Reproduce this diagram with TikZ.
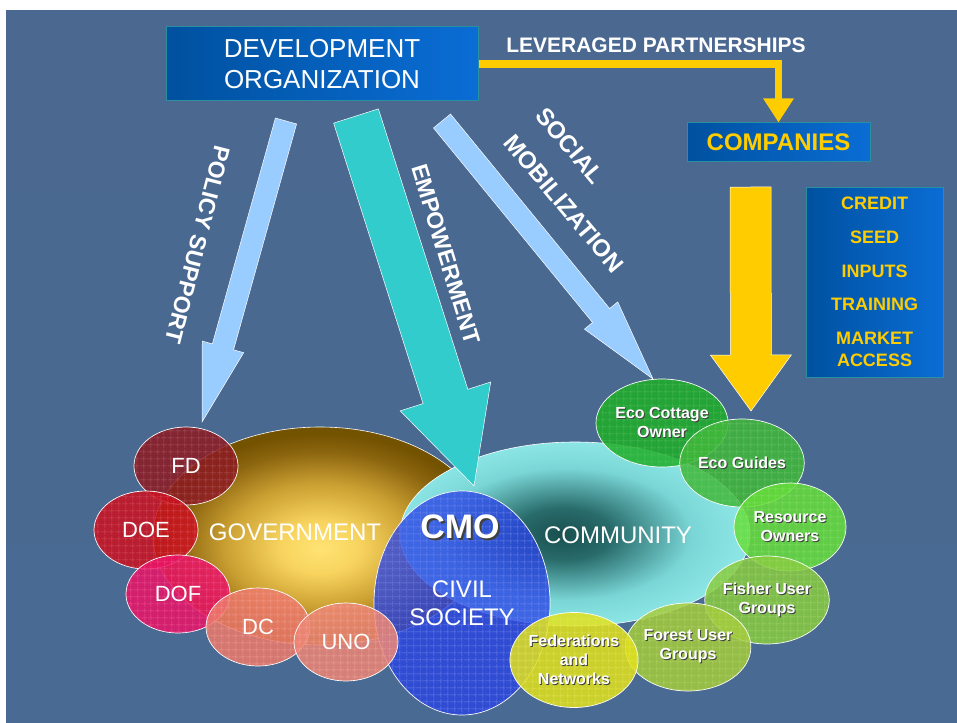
\documentclass[tikz,border=0pt]{standalone}
\usepackage{fontspec}
\setmainfont{Liberation Sans}
\usetikzlibrary{calc,shapes.geometric,arrows.meta,patterns.meta}

\definecolor{bgtop}{HTML}{4A6890}
\definecolor{bgmid}{HTML}{5A7CA6}
\definecolor{bgbot}{HTML}{496A92}
\definecolor{devdark}{HTML}{00519F}
\definecolor{devlight}{HTML}{0A6DD5}
\definecolor{boxedge}{HTML}{2A8F9F}
\definecolor{gold}{HTML}{FFCC00}
\definecolor{skyarrow}{HTML}{99CCFF}
\definecolor{tealarrow}{HTML}{33CCCC}
\definecolor{cmoblue}{HTML}{2A44E6}
\definecolor{fdred}{HTML}{8E1A22}
\definecolor{doered}{HTML}{CC1020}
\definecolor{dofpink}{HTML}{EC1468}
\definecolor{dcsalmon}{HTML}{EE7A6C}
\definecolor{unosalmon}{HTML}{EE8676}
\definecolor{ecogreen}{HTML}{1EAE28}
\definecolor{guidegreen}{HTML}{40B83A}
\definecolor{resgreen}{HTML}{66DE3A}
\definecolor{fishgreen}{HTML}{88CC40}
\definecolor{forgreen}{HTML}{A4CC3C}
\definecolor{fedyellow}{HTML}{E2E21C}

\pgfdeclareradialshading{govshade}{\pgfpoint{0bp}{-3bp}}{rgb(0bp)=(1,.89,.45);rgb(6bp)=(.97,.83,.37);rgb(14bp)=(.8,.63,.2);rgb(21bp)=(.55,.4,.06);rgb(25bp)=(.45,.32,0);rgb(50bp)=(.45,.32,0)}
\pgfdeclareradialshading{commshade}{\pgfpoint{-2bp}{0bp}}{rgb(0bp)=(.1,.31,.31);rgb(7bp)=(.16,.42,.42);rgb(18bp)=(.48,.84,.84);rgb(25bp)=(.55,.9,.9);rgb(50bp)=(.55,.9,.9)}

\newcommand\shd[2][1pt]{\leavevmode\rlap{\kern#1\raisebox{-#1}{\textcolor{black!75}{#2}}}#2}
\newcommand\fatarrow[6]{%
  \coordinate (neck) at ($(#3)!#6!(#2)$);
  \draw[#1] ($(#2)!#4!90:(#3)$) -- ($(neck)!#4!90:(#3)$) -- ($(neck)!#5!90:(#3)$) -- (#3)
    -- ($(neck)!#5!-90:(#3)$) -- ($(neck)!#4!-90:(#3)$) -- ($(#2)!#4!-90:(#3)$) -- cycle;}

\begin{document}
\begin{tikzpicture}[x=1pt,y=-1pt,
every node/.style={text=white},
box/.style={draw=boxedge,line width=1pt,left color=devdark,right color=devlight,inner sep=0pt},
gridded/.style={postaction={pattern={Lines[distance=6.5pt,line width=.5pt]},pattern color=#1},
  postaction={pattern={Lines[distance=6.5pt,angle=90,line width=.5pt]},pattern color=#1}},
sm/.style={ellipse,draw=white,line width=.7pt,fill=#1,fill opacity=.85,text opacity=1,
  minimum width=104pt,minimum height=78pt,inner sep=0pt,gridded=#1!70!white,
  font=\fontsize{22}{26}\selectfont},
gr/.style={ellipse,draw=white,line width=.7pt,fill=#1,fill opacity=.85,text opacity=1,
  minimum width=112pt,minimum height=88pt,inner sep=0pt,align=center,gridded=#1!75!white,
  font=\bfseries\fontsize{16}{19}\selectfont},
yelline/.style={draw=gold,line width=7.5pt,-{Triangle[width=29pt,length=24pt]}},
lbarrow/.style={fill=skyarrow,draw=white,line width=.5pt},
tlarrow/.style={fill=tealarrow,draw=white,line width=.5pt},
ylarrow/.style={fill=gold,draw=white,line width=.5pt},
arrowlab/.style={font=\bfseries\fontsize{23}{27}\selectfont}]

\useasboundingbox (0,0) rectangle (957,722);
\fill[top color=bgtop,middle color=bgmid,bottom color=bgbot] (6,11) rectangle (957,722);

\node[ellipse,minimum width=334pt,minimum height=218pt,shading=govshade,draw=white,line width=.6pt] (gov) at (320,536) {};
\node[ellipse,minimum width=350pt,minimum height=184pt,shading=commshade,draw=white,line width=.6pt] (comm) at (575,534) {};
\node[ellipse,minimum width=176pt,minimum height=224pt,fill=cmoblue,fill opacity=.78,text opacity=1,
  draw=white,line width=.7pt,gridded=cmoblue!60!white,align=center,font=\fontsize{24}{28}\selectfont] (cmo) at (462,603) {CIVIL\\SOCIETY};

\node[sm=fdred] (fd) at (186,466) {FD};
\node[sm=doered] (doe) at (146,530) {DOE};
\node[sm=dofpink] (dof) at (178,594) {DOF};
\node[sm=dcsalmon] (dc) at (258,627) {DC};
\node[sm=unosalmon] (uno) at (346,642) {UNO};

\node[gr=ecogreen] (ecoc) at (662,423) {\shd{Eco Cottage}\\\shd{Owner}};
\node[gr=guidegreen] (guide) at (742,463) {\shd{Eco Guides}};
\node[gr=resgreen] (res) at (790,527) {\shd{Resource}\\\shd{Owners}};
\node[gr=fishgreen] (fish) at (767,600) {\shd{Fisher User}\\\shd{Groups}};
\node[gr=forgreen] (forest) at (688,647) {\shd{Forest User}\\\shd{Groups}};
\node[gr=fedyellow,minimum width=127pt,minimum height=95pt] (fed) at (574,660) {\shd{Federations}\\\shd{and}\\\shd{Networks}};

\node[font=\fontsize{24}{28}\selectfont] (govlab) at (295,532) {GOVERNMENT};
\node[font=\fontsize{24}{28}\selectfont] (commlab) at (618,535) {COMMUNITY};
\node[font=\bfseries\fontsize{34}{40}\selectfont] (cmolab) at (460,528) {\shd[2pt]{CMO}};

\node[box,minimum width=312pt,minimum height=74pt,align=center,font=\fontsize{26}{31}\selectfont] (dev) at (322,64) {DEVELOPMENT\\ORGANIZATION};
\node[box,minimum width=183pt,minimum height=39pt,text=gold,font=\bfseries\fontsize{24}{28}\selectfont] (comp) at (778.5,142.5) {COMPANIES};
\node[box,minimum width=137pt,minimum height=190pt,align=center,text=gold,font=\bfseries\fontsize{18}{22}\selectfont] (credit) at (874.5,282)
  {CREDIT\\[11.6pt]SEED\\[11.6pt]INPUTS\\[11.6pt]TRAINING\\[11.6pt]MARKET\\ACCESS};

\node[font=\bfseries\fontsize{21}{25}\selectfont] (lev) at (656,45.5) {LEVERAGED PARTNERSHIPS};
\draw[yelline] (dev.east) -| (comp.north);

\coordinate (polS) at (286,121);
\coordinate (polT) at (202,422);
\coordinate (empS) at (356,116);
\coordinate (empT) at (474,486);
\coordinate (socS) at (442,121);
\coordinate (socT) at (653,379);
\coordinate (yelS) at (750.5,187);
\coordinate (yelT) at (751,411);

\fatarrow{lbarrow}{polS}{polT}{11pt}{21.5pt}{78pt}
\fatarrow{tlarrow}{empS}{empT}{23.5pt}{47.5pt}{94pt}
\fatarrow{lbarrow}{socS}{socT}{11pt}{21.5pt}{82pt}
\fatarrow{ylarrow}{yelS}{yelT}{20.5pt}{40.5pt}{56pt}

\node[arrowlab,rotate=-104.3] (poltext) at (197.5,245) {POLICY SUPPORT};
\node[arrowlab,rotate=-72.9] (emptext) at (446,254) {EMPOWERMENT};
\node[arrowlab,rotate=-50,align=left,font=\bfseries\fontsize{24}{42}\selectfont] (soctext) at (580,190) {SOCIAL\\MOBILIZATION};

\end{tikzpicture}
\end{document}
